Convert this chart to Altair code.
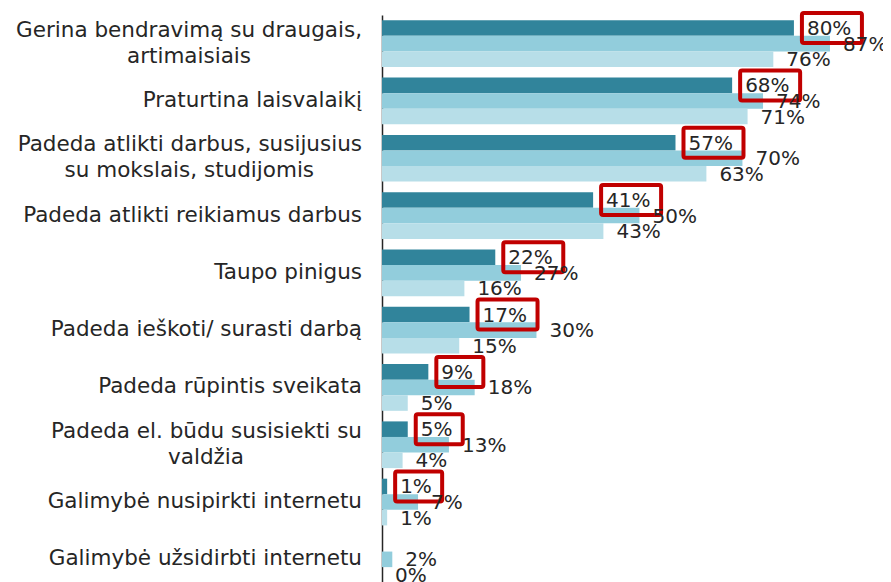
import altair as alt
import pandas as pd

categories = [
    "Gerina bendravimą su draugais,\nartimaisiais",
    "Praturtina laisvalaikį",
    "Padeda atlikti darbus, susijusius\nsu mokslais, studijomis",
    "Padeda atlikti reikiamus darbus",
    "Taupo pinigus",
    "Padeda ieškoti/ surasti darbą",
    "Padeda rūpintis sveikata",
    "Padeda el. būdu susisiekti su\nvaldžia",
    "Galimybė nusipirkti internetu",
    "Galimybė užsidirbti internetu",
]
series_names = ["Serija 1", "Serija 2", "Serija 3"]
series1 = [80, 68, 57, 41, 22, 17, 9, 5, 1, None]
series2 = [87, 74, 70, 50, 27, 30, 18, 13, 7, 2]
series3 = [76, 71, 63, 43, 16, 15, 5, 4, 1, 0]
colors = ["#31849b", "#92cddc", "#b7dee8"]

FONT = "DejaVu Sans"
CAT_FS = 21.5
VAL_FS = 20
W = 501
H = 567
DMAX = 97.3
PX = W / DMAX

# approximate DejaVu Sans advance widths (em), used to centre 2nd label lines
_EM = {" ": .318, ",": .318, ".": .318, "/": .337, "a": .613, "b": .635, "c": .550,
       "d": .635, "e": .615, "f": .352, "g": .635, "h": .634, "i": .278, "j": .278,
       "k": .579, "l": .278, "m": .974, "n": .634, "o": .612, "p": .635, "r": .411,
       "s": .521, "t": .392, "u": .634, "v": .592, "y": .592, "z": .525, "ž": .525,
       "ą": .613, "ū": .634, "ė": .615, "į": .278, "š": .521, "G": .775, "P": .603,
       "T": .611}

def text_w(s):
    return sum(_EM.get(ch, .62) for ch in s) * CAT_FS

keys = [c.replace("\n", " ") for c in categories]
rows = []
for k, vals in zip(keys, zip(series1, series2, series3)):
    for s, v in zip(series_names, vals):
        if v is None:
            continue
        rows.append({"cat": k, "series": s, "value": v, "label": f"{v}%"})
df = pd.DataFrame(rows)

l1 = [c.split("\n")[0] for c in categories]
l2 = [c.split("\n")[1] if "\n" in c else "" for c in categories]
lab = pd.DataFrame({
    "cat": keys,
    "l1": l1,
    "l2": l2,
    "w1": [text_w(s) for s in l1],
})

xscale = alt.Scale(domain=[0, DMAX], nice=False, zero=True)
yscale = alt.Scale(range=[0, 573], paddingInner=0.185, paddingOuter=0.0925)
yaxis = alt.Axis(labels=False, ticks=False, title=None, grid=False,
                 domainColor="#262626", domainWidth=1.5)

def Y():
    return alt.Y("cat:N", sort=keys, scale=yscale, axis=yaxis)

def YO():
    return alt.YOffset("series:N", sort=series_names,
                       scale=alt.Scale(paddingInner=0, paddingOuter=0))

base = alt.Chart(df)

bars = base.mark_bar().encode(
    x=alt.X("value:Q", scale=xscale, axis=None),
    y=Y(),
    yOffset=YO(),
    color=alt.Color("series:N", scale=alt.Scale(domain=series_names, range=colors), legend=None),
)

values = base.mark_text(align="left", baseline="middle", dx=13, dy=1,
                        font=FONT, fontSize=VAL_FS, color="#262626").encode(
    x=alt.X("value:Q", scale=xscale, axis=None),
    y=Y(),
    yOffset=YO(),
    text="label:N",
)

boxes = base.transform_filter(alt.datum.series == series_names[0]).transform_calculate(
    x2=f"datum.value + (length(datum.label) >= 3 ? 60 : 47) / {PX}"
).mark_bar(fillOpacity=0, stroke="#c00000", strokeWidth=4, height=30,
           xOffset=8, x2Offset=8, cornerRadius=2, yOffset=1).encode(
    x=alt.X("value:Q", scale=xscale, axis=None),
    x2="x2:Q",
    y=Y(),
    yOffset=YO(),
)

lbase = alt.Chart(lab)
single = lbase.transform_filter("datum.l2 == ''").mark_text(
    align="right", baseline="middle", font=FONT, fontSize=CAT_FS, color="#262626"
).encode(x=alt.value(-20), y=Y(), text="l1:N")

first = lbase.transform_filter("datum.l2 != ''").mark_text(
    align="right", baseline="middle", dy=-13, font=FONT, fontSize=CAT_FS, color="#262626"
).encode(x=alt.value(-20), y=Y(), text="l1:N")

second = lbase.transform_filter("datum.l2 != ''").transform_calculate(
    xc=f"-(20 + datum.w1 / 2) / {PX}"
).mark_text(
    align="center", baseline="middle", dy=13, font=FONT, fontSize=CAT_FS, color="#262626"
).encode(x=alt.X("xc:Q", scale=xscale, axis=None), y=Y(), text="l2:N")

chart = alt.layer(bars, boxes, values, single, first, second).properties(
    width=W, height=H,
    padding={"left": 374, "top": 7, "right": 0, "bottom": 0},
    autosize=alt.AutoSizeParams(type="none"),
).configure_view(strokeWidth=0)

chart.save("out.html", embed_options={"renderer": "svg", "actions": False})
